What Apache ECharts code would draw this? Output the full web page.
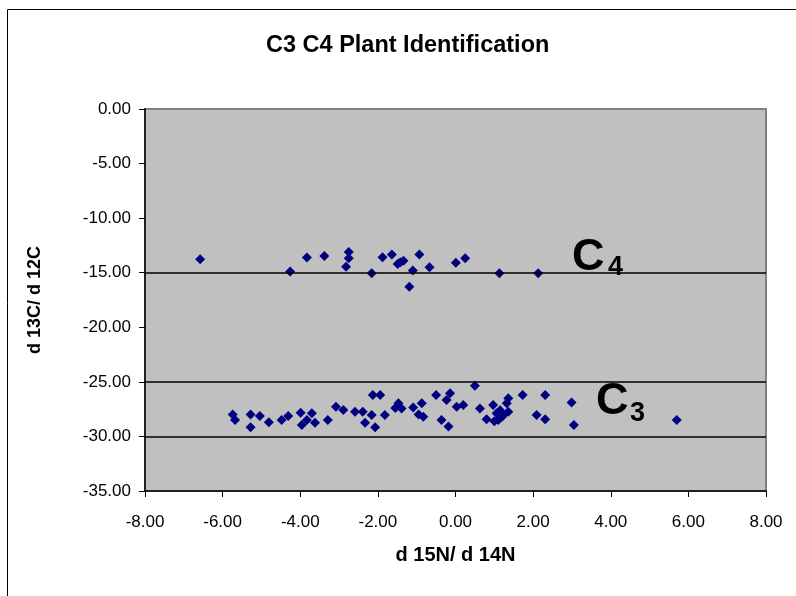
<!DOCTYPE html>
<html>
<head>
<meta charset="utf-8">
<script src="https://cdn.jsdelivr.net/npm/echarts@6/dist/echarts.min.js"></script>
<style>html,body{margin:0;padding:0;background:#fff;}#c{width:796px;height:596px;}</style>
</head>
<body>
<div id="c"></div>
<script>
var titleText = 'C3 C4 Plant Identification';
var xName = 'd 15N/ d 14N';
var yName = 'd 13C/ d 12C';
var refLines = [-15, -25, -30];

var c4Points = [
  [-6.58,-13.77],[-4.26,-14.90],[-3.83,-13.60],[-3.38,-13.47],[-2.75,-13.10],
  [-2.75,-13.68],[-2.82,-14.45],[-2.16,-15.06],[-1.88,-13.59],[-1.64,-13.32],
  [-1.49,-14.20],[-1.42,-14.05],[-1.34,-13.90],[-1.10,-14.80],[-1.19,-16.28],
  [-0.93,-13.32],[-0.67,-14.50],[0.01,-14.08],[0.25,-13.68],[1.13,-15.06],
  [2.13,-15.06]
];
var c3Points = [
  [-5.74,-27.98],[-5.68,-28.50],[-5.28,-27.98],[-5.28,-29.17],[-5.04,-28.13],
  [-4.81,-28.71],[-4.48,-28.50],[-4.31,-28.13],[-3.99,-27.82],[-3.96,-28.95],
  [-3.83,-28.50],[-3.70,-27.88],[-3.62,-28.74],[-3.29,-28.50],[-3.08,-27.28],
  [-2.89,-27.58],[-2.59,-27.73],[-2.39,-27.73],[-2.33,-28.74],[-2.13,-26.20],
  [-1.94,-26.20],[-2.16,-28.04],[-2.07,-29.17],[-1.82,-28.04],[-1.47,-26.97],
  [-1.39,-27.43],[-1.55,-27.40],[-1.09,-27.34],[-0.87,-26.97],[-0.83,-28.19],
  [-0.95,-28.00],[-0.50,-26.20],[-0.14,-26.05],[-0.23,-26.66],[-0.36,-28.50],
  [-0.18,-29.10],[0.03,-27.28],[0.20,-27.12],[0.50,-25.35],[0.63,-27.43],
  [0.80,-28.43],[0.97,-27.12],[1.06,-27.88],[1.10,-28.50],[1.23,-28.04],
  [1.36,-26.51],[1.36,-27.73],[1.32,-26.97],[1.15,-27.60],[1.20,-28.20],
  [1.00,-28.60],[1.73,-26.20],[2.09,-28.04],[2.31,-28.43],[2.31,-26.20],
  [2.99,-26.90],[3.05,-28.95],[5.70,-28.50]
];

var chart = echarts.init(document.getElementById('c'), null, {renderer:'canvas'});
var fam = '"Liberation Sans", Arial, sans-serif';
chart.setOption({
  animation: false,
  backgroundColor: '#ffffff',
  title: {
    text: titleText, left: 261, top: 29,
    textStyle: {fontFamily: fam, fontSize: 23.5, fontWeight: 'bold', color: '#000'}
  },
  grid: {
    left: 145, right: 30, top: 109, bottom: 105,
    show: true, backgroundColor: '#C0C0C0', borderColor: '#808080', borderWidth: 2
  },
  xAxis: {
    type: 'value', min: -8, max: 8, interval: 2,
    name: xName, nameLocation: 'middle', nameGap: 54,
    nameTextStyle: {fontFamily: fam, fontSize: 20, fontWeight: 'bold', color: '#000'},
    axisLine: {onZero: false, lineStyle: {color: '#000', width: 1.5}},
    axisTick: {show: true, inside: false, length: 6, lineStyle: {color: '#000'}},
    axisLabel: {fontFamily: fam, fontSize: 17, color: '#000', margin: 23,
      formatter: function(v){return v.toFixed(2);}},
    splitLine: {show: false}
  },
  yAxis: {
    type: 'value', min: -35, max: 0, interval: 5,
    name: yName, nameLocation: 'middle', nameGap: 101, nameRotate: 90,
    nameTextStyle: {fontFamily: fam, fontSize: 18, fontWeight: 'bold', color: '#000'},
    axisLine: {onZero: false, lineStyle: {color: '#222', width: 2}},
    axisTick: {show: true, inside: false, length: 6, lineStyle: {color: '#000'}},
    axisLabel: {fontFamily: fam, fontSize: 17, color: '#000', margin: 14,
      formatter: function(v){return v.toFixed(2);}},
    splitLine: {show: false}
  },
  series: [
    {
      type: 'scatter', name: 'C4', data: c4Points, symbol: 'diamond', symbolSize: 10,
      itemStyle: {color: '#000080', opacity: 1},
      markLine: {
        silent: true, symbol: ['none','none'], label: {show: false},
        lineStyle: {color: '#000', width: 1.5, type: 'solid'},
        data: refLines.map(function(v){return {yAxis: v};})
      }
    },
    {
      type: 'scatter', name: 'C3', data: c3Points, symbol: 'diamond', symbolSize: 10,
      itemStyle: {color: '#000080', opacity: 1}
    }
  ],
  graphic: [
    {type:'rect', silent:true, z:-1, shape:{x:7.5, y:9.5, width:800, height:600},
      style:{fill:'none', stroke:'#000', lineWidth:1}},
    {type:'text', x:572, y:258, style:{text:'C', fill:'#000', font:'bold 45px ' + fam, textAlign:'left', textVerticalAlign:'middle', align:'left', verticalAlign:'middle'}},
    {type:'text', x:608, y:268, style:{text:'4', fill:'#000', font:'bold 27px ' + fam, textAlign:'left', textVerticalAlign:'middle', align:'left', verticalAlign:'middle'}},
    {type:'text', x:596, y:402, style:{text:'C', fill:'#000', font:'bold 45px ' + fam, textAlign:'left', textVerticalAlign:'middle', align:'left', verticalAlign:'middle'}},
    {type:'text', x:630, y:414, style:{text:'3', fill:'#000', font:'bold 27px ' + fam, textAlign:'left', textVerticalAlign:'middle', align:'left', verticalAlign:'middle'}}
  ]
});
</script>
</body>
</html>
